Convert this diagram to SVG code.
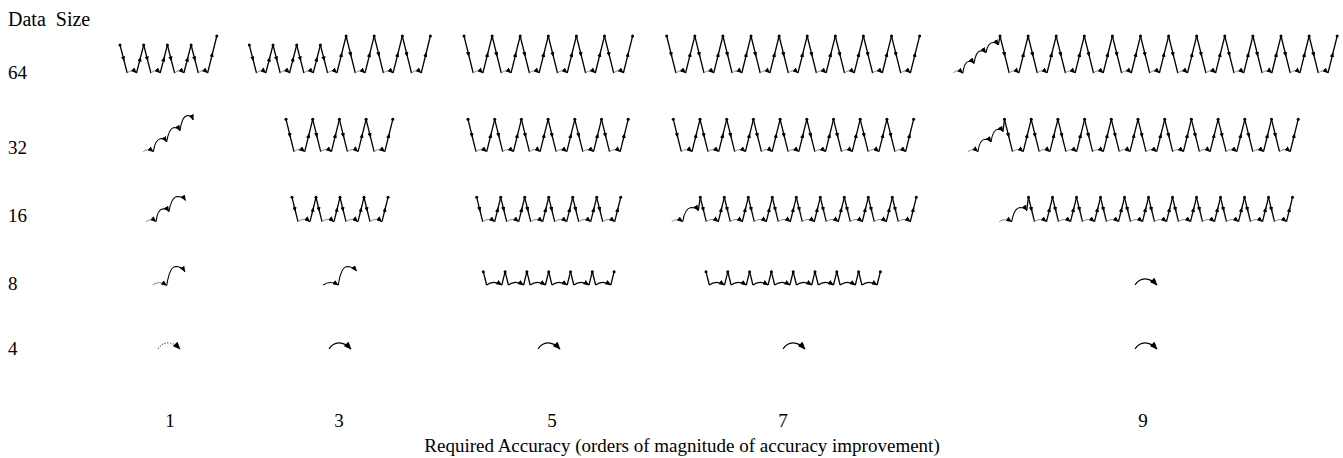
<svg xmlns="http://www.w3.org/2000/svg" width="1343" height="458" viewBox="0 0 1343 458">
<style>
.k{fill:none;stroke:#000;stroke-width:1.3}
.mm{marker-mid:url(#am)}
.gr{fill:none;stroke:#888;stroke-width:1;marker-end:url(#ae)}
.bk{fill:none;stroke:#000;stroke-width:1.1;marker-end:url(#ae)}
.hp{fill:none;stroke:#000;stroke-width:1.2;marker-end:url(#ah)}
.dt{fill:none;stroke:#666;stroke-width:1.1;stroke-dasharray:1.4 1.4;marker-end:url(#ah)}
.dot{fill:#000}
text{font-family:"Liberation Serif","Times New Roman",serif;font-size:19px;fill:#000}
</style>
<defs>
<marker id="am" viewBox="0 0 7 6" refX="3.5" refY="3" markerWidth="5" markerHeight="4.2" markerUnits="userSpaceOnUse" orient="auto"><path d="M0,0L7,3L0,6z" fill="#000"/></marker>
<marker id="ae" viewBox="0 0 7 6" refX="6.5" refY="3" markerWidth="6" markerHeight="5" markerUnits="userSpaceOnUse" orient="auto"><path d="M0,0L7,3L0,6z" fill="#000"/></marker>
<marker id="ah" viewBox="0 0 7 6" refX="6.5" refY="3" markerWidth="8" markerHeight="6.5" markerUnits="userSpaceOnUse" orient="auto"><path d="M0,0L7,3L0,6z" fill="#000"/></marker>
<circle id="dot" class="dot" r="1.5"/>
<g id="v64">
<polyline class="k mm" points="0,0 4.6,18.5 9.2,37"/>
<path class="gr" d="M9.2,37Q14,32.5 18.9,37"/>
<polyline class="k mm" points="18.9,37 23.5,18.5 28.1,0"/>
<use href="#dot"/>
</g>
<g id="v64s">
<polyline class="k mm" points="0,0 3.6,14 7.2,28"/>
<path class="gr" d="M7.2,28Q11.8,23.5 16.5,28"/>
<polyline class="k mm" points="16.5,28 20.1,14 23.7,0"/>
<use href="#dot"/>
</g>
<g id="v64t">
<polyline class="k mm" points="0,0 3.6,14 7.2,28"/>
<path class="gr" d="M7.2,28Q11.8,23.5 16.5,28"/>
<polyline class="k mm" points="16.5,28 21.1,9.5 25.7,-9"/>
<use href="#dot"/>
</g>
<g id="v32">
<polyline class="k mm" points="0,0 4,16.2 8,32.4"/>
<path class="gr" d="M8,32.4Q13.3,27.9 18.7,32.4"/>
<polyline class="k mm" points="18.7,32.4 22.7,16.2 26.7,0"/>
<use href="#dot"/>
</g>
<g id="v16">
<polyline class="k mm" points="0,0 3,12.2 6,24.4"/>
<path class="gr" d="M6,24.4Q12,19.6 18,24.4"/>
<polyline class="k mm" points="18,24.4 21,12.2 24,0"/>
<use href="#dot"/>
</g>
<g id="v8">
<polyline class="k" points="0,0 3.3,13.3"/>
<path class="bk" d="M3.3,13.3Q10,8 18.5,13.3"/>
<polyline class="k" points="18.5,13.3 21.8,0"/>
<use href="#dot"/>
</g>
<path id="hop" d="M0,0C5,-8 14,-8.5 22,0"/>
</defs>

<g id="labels">
<text x="8" y="26" style="font-size:20px;word-spacing:5px">Data Size</text>
<text x="8" y="78.5">64</text>
<text x="8" y="153.5">32</text>
<text x="8" y="221.5">16</text>
<text x="8" y="289.5">8</text>
<text x="8" y="355">4</text>
<text x="170" y="427" text-anchor="middle">1</text>
<text x="339" y="427" text-anchor="middle">3</text>
<text x="552" y="427" text-anchor="middle">5</text>
<text x="783" y="427" text-anchor="middle">7</text>
<text x="1143" y="427" text-anchor="middle">9</text>
<text x="682" y="452" text-anchor="middle">Required Accuracy (orders of magnitude of accuracy improvement)</text>
</g>

<g id="connectors">
<g id="r64c1">
<use href="#v64s" x="120" y="45"/><use href="#v64s" x="143.7" y="45"/><use href="#v64s" x="167.4" y="45"/><use href="#v64t" x="191.1" y="45"/><use href="#dot" x="216.8" y="36"/>
</g>
<g id="r64c3">
<use href="#v64s" x="249.3" y="45"/><use href="#v64s" x="273" y="45"/><use href="#v64s" x="296.7" y="45"/><use href="#v64t" x="320.4" y="45"/>
<use href="#v64" x="346.1" y="36"/><use href="#v64" x="374.2" y="36"/><use href="#v64" x="402.3" y="36"/><use href="#dot" x="430.4" y="36"/>
</g>
<g id="r64c5">
<use href="#v64" x="464" y="36"/><use href="#v64" x="492.1" y="36"/><use href="#v64" x="520.2" y="36"/><use href="#v64" x="548.3" y="36"/><use href="#v64" x="576.4" y="36"/><use href="#v64" x="604.5" y="36"/><use href="#dot" x="632.6" y="36"/>
</g>
<g id="r64c7">
<use href="#v64" x="666.7" y="36"/><use href="#v64" x="694.8" y="36"/><use href="#v64" x="722.9" y="36"/><use href="#v64" x="751" y="36"/><use href="#v64" x="779.1" y="36"/><use href="#v64" x="807.2" y="36"/><use href="#v64" x="835.3" y="36"/><use href="#v64" x="863.4" y="36"/><use href="#v64" x="891.5" y="36"/><use href="#dot" x="919.6" y="36"/>
</g>
<g id="r64c9">
<path class="gr" d="M953.3,72.7Q958,68.5 962.7,73.3"/>
<path class="bk" d="M962.7,73.3C963.8,66 966,61.5 969,61.3C971.5,61.3 973,62 974,63.3"/>
<path class="bk" d="M974,63.3C975,57 977,51 980.5,50.7C983,50.7 985,51.5 986,52.7"/>
<path class="bk" d="M986,52.7C987,47 989.5,42.5 993,42.5C995.5,42.5 997.3,43.5 998.3,45"/>
<path class="k" d="M998.3,45L1000,36"/>
<use href="#v64" x="1000" y="36"/><use href="#v64" x="1028.1" y="36"/><use href="#v64" x="1056.2" y="36"/><use href="#v64" x="1084.3" y="36"/><use href="#v64" x="1112.4" y="36"/><use href="#v64" x="1140.5" y="36"/><use href="#v64" x="1168.6" y="36"/><use href="#v64" x="1196.7" y="36"/><use href="#v64" x="1224.8" y="36"/><use href="#v64" x="1252.9" y="36"/><use href="#v64" x="1281" y="36"/><use href="#v64" x="1309.1" y="36"/><use href="#dot" x="1337.2" y="36"/>
</g>
<g id="r32c1">
<path class="gr" d="M143.3,151.7Q148,147.5 153.3,151.7"/>
<path class="bk" d="M153.3,151.7C154.5,144 157,139 161,138.5C164,138.5 165.5,140 166.7,141.7"/>
<path class="bk" d="M166.7,141.7C168,134 170.5,128 174,127.5C177,127.5 179,129 180,130.7"/>
<path class="bk" d="M180,130.7C181,123 183.5,116 187.5,115.5C190.5,115.5 192.3,117.5 193.3,120"/>
</g>
<g id="r32c3">
<use href="#v32" x="286" y="119.3"/><use href="#v32" x="312.7" y="119.3"/><use href="#v32" x="339.4" y="119.3"/><use href="#v32" x="366.1" y="119.3"/><use href="#dot" x="392.8" y="119.3"/>
</g>
<g id="r32c5">
<use href="#v32" x="468" y="119.3"/><use href="#v32" x="494.7" y="119.3"/><use href="#v32" x="521.4" y="119.3"/><use href="#v32" x="548.1" y="119.3"/><use href="#v32" x="574.8" y="119.3"/><use href="#v32" x="601.5" y="119.3"/><use href="#dot" x="628.2" y="119.3"/>
</g>
<g id="r32c7">
<use href="#v32" x="673.3" y="119.3"/><use href="#v32" x="700" y="119.3"/><use href="#v32" x="726.7" y="119.3"/><use href="#v32" x="753.4" y="119.3"/><use href="#v32" x="780.1" y="119.3"/><use href="#v32" x="806.8" y="119.3"/><use href="#v32" x="833.5" y="119.3"/><use href="#v32" x="860.2" y="119.3"/><use href="#v32" x="886.9" y="119.3"/><use href="#dot" x="913.6" y="119.3"/>
</g>
<g id="r32c9">
<path class="gr" d="M968,151.7Q973,147.5 978,151.7"/>
<path class="bk" d="M978,151.7C979,144 981.5,139.5 985,139.3C988,139.3 990,140.5 991,142"/>
<path class="bk" d="M991,142C992,135 994.5,129.5 998,129.3C1000.5,129.3 1002,130 1003,131.5"/>
<path class="k" d="M1003,131.5L1004.5,119.3"/>
<use href="#v32" x="1004.5" y="119.3"/><use href="#v32" x="1031.2" y="119.3"/><use href="#v32" x="1057.9" y="119.3"/><use href="#v32" x="1084.6" y="119.3"/><use href="#v32" x="1111.3" y="119.3"/><use href="#v32" x="1138" y="119.3"/><use href="#v32" x="1164.7" y="119.3"/><use href="#v32" x="1191.4" y="119.3"/><use href="#v32" x="1218.1" y="119.3"/><use href="#v32" x="1244.8" y="119.3"/><use href="#v32" x="1271.5" y="119.3"/><use href="#dot" x="1298.2" y="119.3"/>
</g>
<g id="r16c1">
<path class="gr" d="M146,221.7Q151,217.5 156,221.7"/>
<path class="bk" d="M156,221.7C157,214 159.5,209 163,208.7C166,208.7 168,210 169,211.5"/>
<path class="bk" d="M169,211.5C170,204 173,197 177,196.5C181,196.5 184,198 185.5,200.5"/>
</g>
<g id="r16c3">
<use href="#v16" x="292" y="197.3"/><use href="#v16" x="316" y="197.3"/><use href="#v16" x="340" y="197.3"/><use href="#v16" x="364" y="197.3"/><use href="#dot" x="388" y="197.3"/>
</g>
<g id="r16c5">
<use href="#v16" x="476.7" y="197.3"/><use href="#v16" x="500.7" y="197.3"/><use href="#v16" x="524.7" y="197.3"/><use href="#v16" x="548.7" y="197.3"/><use href="#v16" x="572.7" y="197.3"/><use href="#v16" x="596.7" y="197.3"/><use href="#dot" x="620.7" y="197.3"/>
</g>
<g id="r16c7">
<path class="gr" d="M671.7,221.7Q677,217.5 682.7,221.7"/>
<path class="bk" d="M682.7,221.7C684,214 686.5,208 691,207.5C694.5,207.5 697,208.5 698.3,210.5"/>
<path class="k" d="M698.3,210.5L700.3,197.3"/>
<use href="#v16" x="700.3" y="197.3"/><use href="#v16" x="724.3" y="197.3"/><use href="#v16" x="748.3" y="197.3"/><use href="#v16" x="772.3" y="197.3"/><use href="#v16" x="796.3" y="197.3"/><use href="#v16" x="820.3" y="197.3"/><use href="#v16" x="844.3" y="197.3"/><use href="#v16" x="868.3" y="197.3"/><use href="#v16" x="892.3" y="197.3"/><use href="#dot" x="916.3" y="197.3"/>
</g>
<g id="r16c9">
<path class="gr" d="M999.3,221.7Q1005,217.5 1011.7,221.7"/>
<path class="bk" d="M1011.7,221.7C1013,214 1015.5,208 1020,207.5C1023.5,207.5 1025.5,208.5 1026.7,210.5"/>
<path class="k" d="M1026.7,210.5L1028.5,197.3"/>
<use href="#v16" x="1028.5" y="197.3"/><use href="#v16" x="1052.5" y="197.3"/><use href="#v16" x="1076.5" y="197.3"/><use href="#v16" x="1100.5" y="197.3"/><use href="#v16" x="1124.5" y="197.3"/><use href="#v16" x="1148.5" y="197.3"/><use href="#v16" x="1172.5" y="197.3"/><use href="#v16" x="1196.5" y="197.3"/><use href="#v16" x="1220.5" y="197.3"/><use href="#v16" x="1244.5" y="197.3"/><use href="#v16" x="1268.5" y="197.3"/><use href="#dot" x="1292.5" y="197.3"/>
</g>
<g id="r8c1">
<path class="gr" d="M152.7,285Q159,280 166.7,285.5"/>
<path class="bk" d="M166.7,285.5C168,277 170.5,267 175.5,266.5C180,266.5 183,268.5 185,271.7"/>
</g>
<g id="r8c3">
<path class="bk" d="M323.3,285Q330,280 338.3,285"/>
<path class="bk" d="M338.3,285C339.5,277 342,267 347,266.5C351.5,266.5 354.5,268.5 356.7,271"/>
</g>
<g id="r8c5">
<use href="#v8" x="483.3" y="271.7"/><use href="#v8" x="505.1" y="271.7"/><use href="#v8" x="526.9" y="271.7"/><use href="#v8" x="548.7" y="271.7"/><use href="#v8" x="570.5" y="271.7"/><use href="#v8" x="592.3" y="271.7"/><use href="#dot" x="614.1" y="271.7"/>
</g>
<g id="r8c7">
<use href="#v8" x="706" y="271.7"/><use href="#v8" x="727.8" y="271.7"/><use href="#v8" x="749.6" y="271.7"/><use href="#v8" x="771.4" y="271.7"/><use href="#v8" x="793.2" y="271.7"/><use href="#v8" x="815" y="271.7"/><use href="#v8" x="836.8" y="271.7"/><use href="#v8" x="858.6" y="271.7"/><use href="#dot" x="880.4" y="271.7"/>
</g>
<g id="r8c9"><use href="#hop" class="hp" x="1135" y="285"/></g>
<g id="r4c1"><use href="#hop" class="dt" x="158" y="349"/></g>
<g id="r4c3"><use href="#hop" class="hp" x="329" y="349"/></g>
<g id="r4c5"><use href="#hop" class="hp" x="538" y="349"/></g>
<g id="r4c7"><use href="#hop" class="hp" x="783" y="349"/></g>
<g id="r4c9"><use href="#hop" class="hp" x="1135" y="349"/></g>
</g>
</svg>
